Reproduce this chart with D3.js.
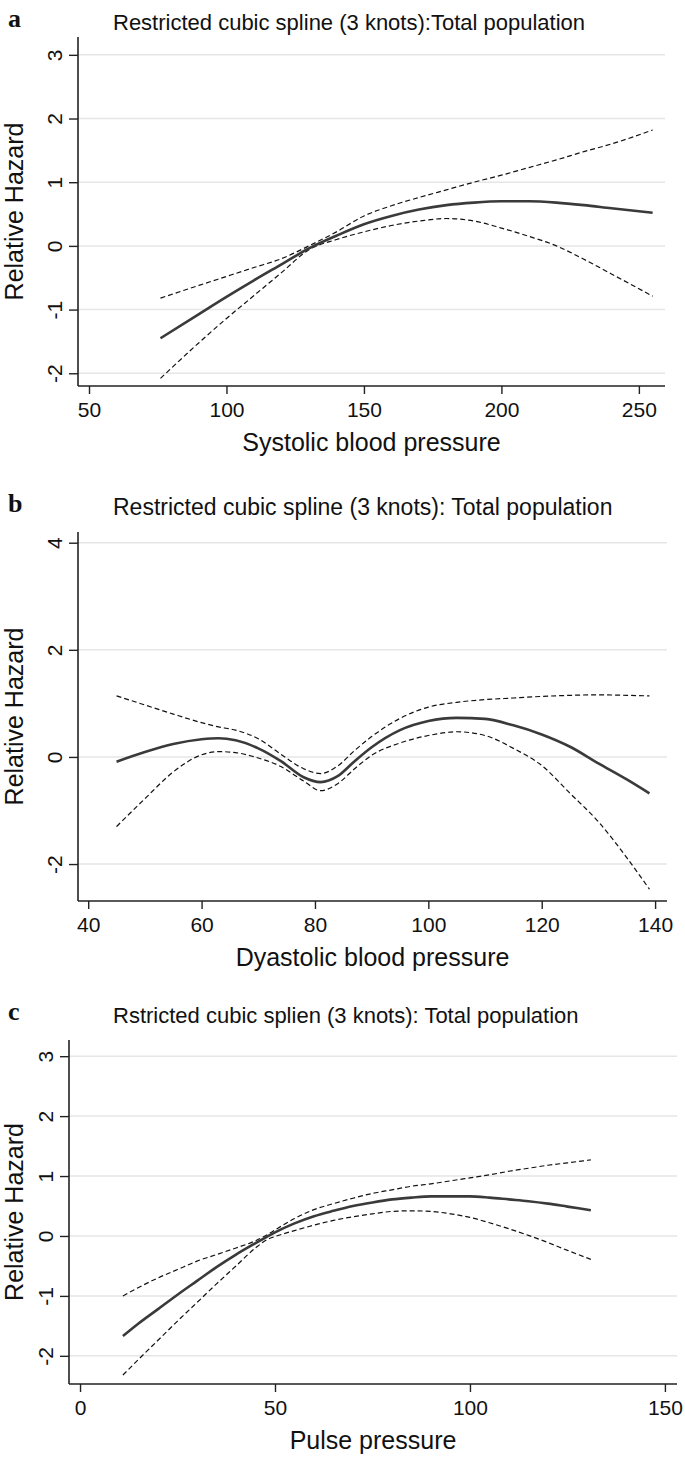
<!DOCTYPE html>
<html>
<head>
<meta charset="utf-8">
<script src="https://cdn.jsdelivr.net/npm/d3@7"></script>
<style>
  body { margin: 0; background: #fff; }
  svg { display: block; }
  text { font-family: "Liberation Sans", Arial, sans-serif; fill: #111; }
  text.letter { font-family: "Liberation Serif", "Times New Roman", serif; font-weight: bold; }
</style>
</head>
<body>
<svg id="chart" width="685" height="1458"></svg>
<script>
// panel a: systolic blood pressure
var SBP_X     = [76, 90, 100, 110, 120, 130, 140, 150, 160, 170, 180, 190, 200, 210, 220, 230, 240, 255];
var SBP_FIT   = [-1.45, -1.07, -0.80, -0.54, -0.29, -0.04, 0.16, 0.34, 0.47, 0.57, 0.64, 0.68, 0.70, 0.70, 0.68, 0.64, 0.59, 0.52];
var SBP_UPPER = [-0.82, -0.62, -0.48, -0.34, -0.20, 0.00, 0.22, 0.47, 0.63, 0.76, 0.88, 1.00, 1.11, 1.23, 1.35, 1.48, 1.60, 1.82];
var SBP_LOWER = [-2.08, -1.52, -1.14, -0.78, -0.42, -0.06, 0.10, 0.22, 0.32, 0.39, 0.43, 0.39, 0.28, 0.15, 0.00, -0.21, -0.44, -0.79];
var SBP_XTICKS = [50, 100, 150, 200, 250];
var SBP_YTICKS = [-2, -1, 0, 1, 2, 3];

// panel b: diastolic blood pressure
var DBP_X     = [45, 50, 55, 60, 63, 66, 70, 74, 78, 81, 84, 87, 90, 95, 100, 105, 110, 115, 120, 125, 130, 135, 139];
var DBP_FIT   = [-0.09, 0.09, 0.24, 0.33, 0.35, 0.31, 0.16, -0.08, -0.38, -0.47, -0.36, -0.08, 0.18, 0.50, 0.67, 0.73, 0.71, 0.59, 0.42, 0.19, -0.12, -0.42, -0.68];
var DBP_UPPER = [1.14, 0.97, 0.80, 0.64, 0.56, 0.50, 0.34, 0.05, -0.22, -0.31, -0.17, 0.12, 0.38, 0.72, 0.93, 1.02, 1.07, 1.10, 1.13, 1.15, 1.16, 1.15, 1.14];
var DBP_LOWER = [-1.30, -0.78, -0.28, 0.04, 0.10, 0.08, -0.02, -0.18, -0.45, -0.63, -0.50, -0.22, 0.03, 0.26, 0.40, 0.47, 0.40, 0.16, -0.16, -0.68, -1.21, -1.88, -2.47];
var DBP_XTICKS = [40, 60, 80, 100, 120, 140];
var DBP_YTICKS = [-2, 0, 2, 4];

// panel c: pulse pressure
var PP_X     = [11, 15, 20, 25, 30, 35, 40, 45, 48, 50, 55, 60, 65, 70, 75, 80, 85, 90, 95, 100, 105, 110, 115, 120, 125, 131];
var PP_FIT   = [-1.67, -1.46, -1.22, -0.98, -0.75, -0.52, -0.31, -0.12, -0.01, 0.06, 0.21, 0.33, 0.42, 0.50, 0.56, 0.61, 0.64, 0.66, 0.66, 0.66, 0.64, 0.61, 0.58, 0.54, 0.49, 0.43];
var PP_UPPER = [-1.00, -0.86, -0.70, -0.56, -0.42, -0.31, -0.20, -0.08, 0.02, 0.10, 0.29, 0.44, 0.54, 0.63, 0.71, 0.77, 0.83, 0.87, 0.92, 0.97, 1.02, 1.08, 1.13, 1.18, 1.22, 1.27];
var PP_LOWER = [-2.32, -2.06, -1.74, -1.42, -1.11, -0.80, -0.50, -0.20, -0.06, -0.01, 0.09, 0.18, 0.26, 0.32, 0.37, 0.41, 0.42, 0.41, 0.37, 0.31, 0.22, 0.12, 0.01, -0.11, -0.24, -0.39];
var PP_XTICKS = [0, 50, 100, 150];
var PP_YTICKS = [-2, -1, 0, 1, 2, 3];

var TITLES = [
  "Restricted cubic spline (3 knots):Total population",
  "Restricted cubic spline (3 knots): Total population",
  "Rstricted cubic splien (3 knots): Total population"
];
var X_LABELS = ["Systolic blood pressure", "Dyastolic blood pressure", "Pulse pressure"];
var Y_LABEL = "Relative Hazard";
var LETTERS = ["a", "b", "c"];

var panels = [
  { x: SBP_X, fit: SBP_FIT, upper: SBP_UPPER, lower: SBP_LOWER, xTicks: SBP_XTICKS, yTicks: SBP_YTICKS,
    xDomain: [46, 259.5], yDomain: [-2.2, 3.28], left: 78, right: 665, top: 37, bottom: 386,
    titleY: 30, titleSize: 22 },
  { x: DBP_X, fit: DBP_FIT, upper: DBP_UPPER, lower: DBP_LOWER, xTicks: DBP_XTICKS, yTicks: DBP_YTICKS,
    xDomain: [38.2, 142.1], yDomain: [-2.69, 4.2], left: 78, right: 667, top: 532, bottom: 901,
    titleY: 515, titleSize: 23 },
  { x: PP_X, fit: PP_FIT, upper: PP_UPPER, lower: PP_LOWER, xTicks: PP_XTICKS, yTicks: PP_YTICKS,
    xDomain: [-2.83, 153.1], yDomain: [-2.47, 3.27], left: 69, right: 677, top: 1040, bottom: 1384,
    titleY: 1023, titleSize: 22 }
];

var svg = d3.select("#chart");

function drawPanel(p, i) {
  var g = svg.append("g").attr("class", "panel");
  var x = d3.scaleLinear().domain(p.xDomain).range([p.left, p.right]);
  var y = d3.scaleLinear().domain(p.yDomain).range([p.bottom, p.top]);

  // grid
  g.selectAll("line.grid").data(p.yTicks).enter().append("line")
    .attr("class", "grid")
    .attr("x1", p.left).attr("x2", p.right)
    .attr("y1", y).attr("y2", y)
    .style("stroke", "#e6e6e6").style("stroke-width", 1.5);

  // axes
  var xAxis = g.append("g").attr("transform", "translate(0," + p.bottom + ")")
    .call(d3.axisBottom(x).tickValues(p.xTicks).tickSize(8).tickPadding(10).tickFormat(function(d) { return String(d); }));
  xAxis.select(".domain").attr("d", "M" + p.left + ",0H" + p.right);
  var yAxis = g.append("g").attr("transform", "translate(" + p.left + ",0)")
    .call(d3.axisLeft(y).tickValues(p.yTicks).tickSize(9).tickFormat(function(d) { return String(d); }));
  yAxis.select(".domain").attr("d", "M0," + p.top + "V" + p.bottom);
  g.selectAll(".domain").style("stroke", "#222").style("stroke-width", 1.6);
  g.selectAll(".tick line").style("stroke", "#222").style("stroke-width", 1.4);
  xAxis.selectAll(".tick text").style("font-size", "21px").attr("y", 31).attr("dy", 0);
  yAxis.selectAll(".tick text")
    .style("font-size", "21px")
    .attr("x", null).attr("dy", null)
    .attr("text-anchor", "middle")
    .attr("transform", "translate(-16,0) rotate(-90)");

  // curves
  var rows = p.x.map(function(v, k) {
    return { x: v, fit: p.fit[k], upper: p.upper[k], lower: p.lower[k] };
  });
  var line = function(key) {
    return d3.line().curve(d3.curveMonotoneX)
      .x(function(d) { return x(d.x); })
      .y(function(d) { return y(d[key]); });
  };
  ["upper", "lower"].forEach(function(key) {
    g.append("path").datum(rows).attr("d", line(key))
      .style("fill", "none").style("stroke", "#111")
      .style("stroke-width", 1.2).style("stroke-dasharray", "5,3");
  });
  g.append("path").datum(rows).attr("d", line("fit"))
    .style("fill", "none").style("stroke", "#3a3a3a").style("stroke-width", 2.6);

  // labels
  g.append("text").attr("x", (p.left + p.right) / 2).attr("y", p.bottom + 65)
    .attr("text-anchor", "middle").style("font-size", "25px").text(X_LABELS[i]);
  g.append("text")
    .attr("transform", "translate(23," + (p.top + p.bottom) / 2 + ") rotate(-90)")
    .attr("text-anchor", "middle").style("font-size", "25px").text(Y_LABEL);
  g.append("text").attr("x", 113).attr("y", p.titleY)
    .style("font-size", p.titleSize + "px").text(TITLES[i]);
  g.append("text").attr("class", "letter").attr("x", 8).attr("y", p.titleY - 3)
    .style("font-size", "26px").text(LETTERS[i]);
}

panels.forEach(drawPanel);
</script>
</body>
</html>
